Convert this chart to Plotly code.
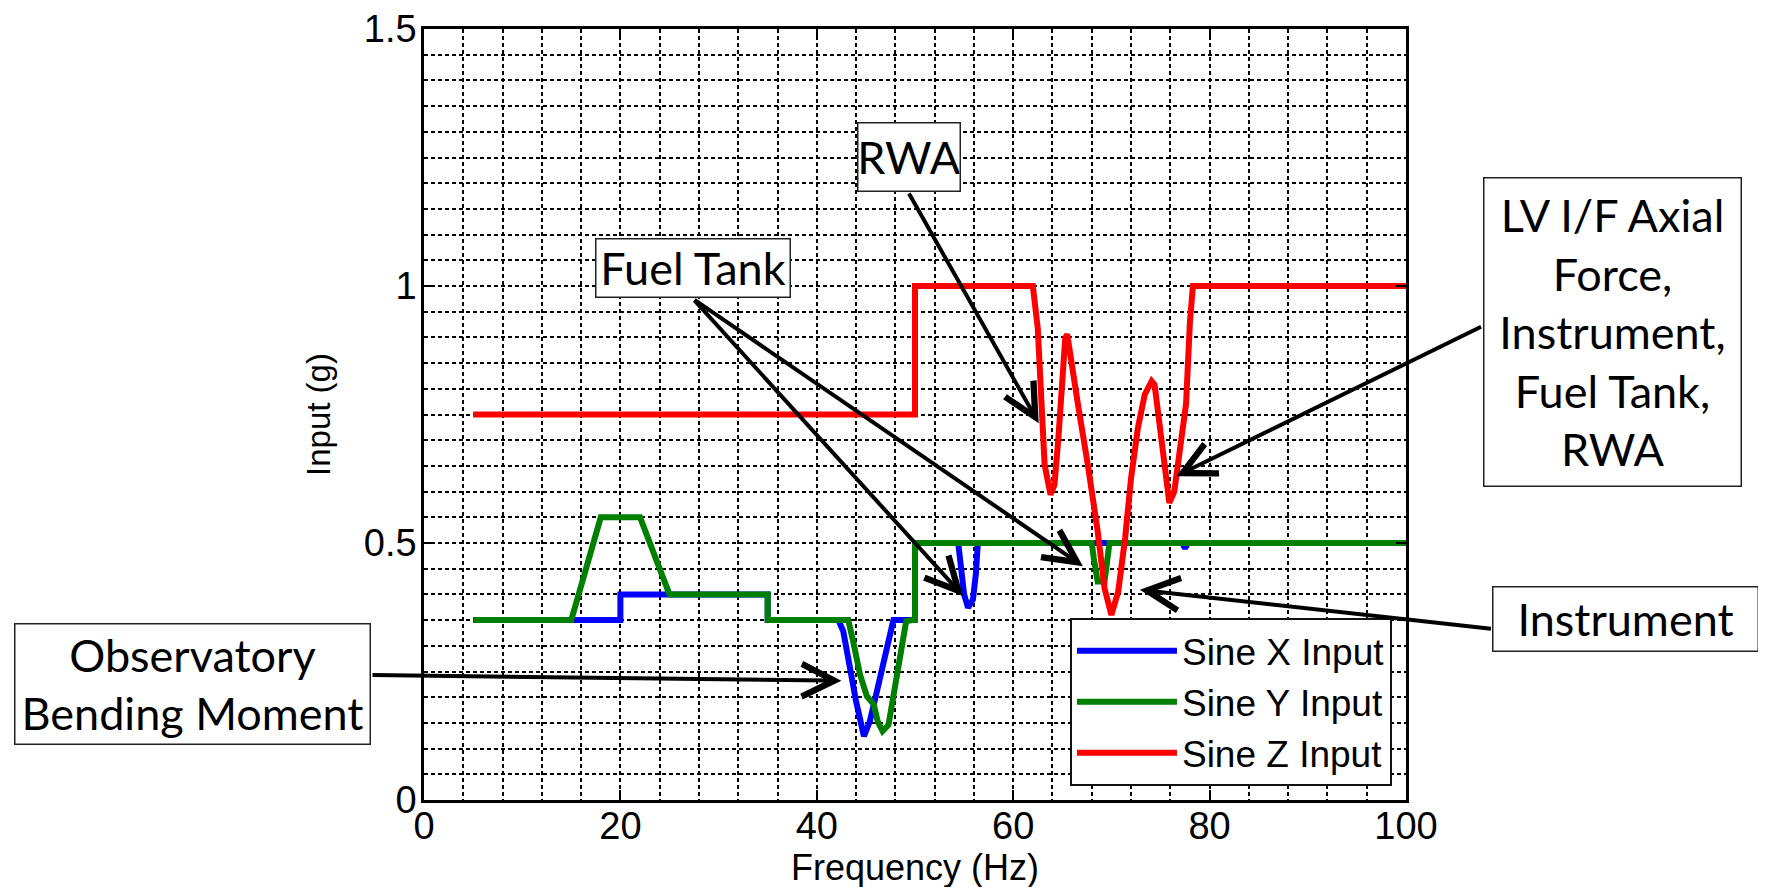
import plotly.graph_objects as go

# ---------------- data ----------------
freq_x = [5, 20, 20, 35, 35, 42.2, 42.7, 43.3, 44.0, 44.8, 45.4, 46.2, 47.3, 47.8, 50, 50,
          54.4, 54.7, 55.0, 55.4, 55.9, 56.2, 56.4, 77.2, 77.5, 77.8, 100]
sine_x = [0.35, 0.35, 0.40, 0.40, 0.35, 0.35, 0.328, 0.263, 0.192, 0.124, 0.153, 0.218, 0.302, 0.35, 0.35, 0.50,
          0.50, 0.445, 0.40, 0.374, 0.39, 0.44, 0.50, 0.50, 0.49, 0.50, 0.50]

freq_y = [5, 15, 18, 22, 25, 35, 35, 43.2, 43.7, 44.4, 45.1, 45.8, 46.2, 46.7, 47.3, 47.9, 48.6, 49.1, 49.8, 50, 50,
          68.0, 68.2, 68.6, 69.3, 69.6, 69.8, 100]
sine_y = [0.35, 0.35, 0.55, 0.55, 0.40, 0.40, 0.35, 0.35, 0.309, 0.244, 0.202, 0.186, 0.153, 0.134, 0.146, 0.218,
          0.296, 0.348, 0.35, 0.35, 0.50, 0.50, 0.471, 0.425, 0.425, 0.47, 0.50, 0.50]

freq_z = [5, 50, 50, 62.0, 62.5, 62.9, 63.2, 63.8, 64.2, 64.6, 64.9, 65.3, 65.5, 65.8, 66.6, 67.6, 68.6, 69.3,
          70.0, 70.7, 71.4, 72.0, 72.7, 73.4, 74.1, 74.4, 74.9, 75.4, 75.9, 76.4, 77.1, 77.6, 78.0, 78.3, 100]
sine_z = [0.75, 0.75, 1.0, 1.0, 0.918, 0.730, 0.652, 0.594, 0.613, 0.704, 0.80, 0.899, 0.906, 0.866, 0.769, 0.652,
          0.523, 0.412, 0.360, 0.406, 0.51, 0.626, 0.724, 0.789, 0.815, 0.808, 0.730, 0.639, 0.578, 0.60, 0.691,
          0.77, 0.931, 1.0, 1.0]

series_names = ["Sine X Input", "Sine Y Input", "Sine Z Input"]
series_colors = ["#0000ff", "#007f00", "#ff0000"]

x_tick_vals = [0, 20, 40, 60, 80, 100]
y_tick_vals = [0, 0.5, 1, 1.5]
y_tick_text = ["0", "0.5", "1", "1.5"]

x_title = "Frequency (Hz)"
y_title = "Input (g)"

# callout boxes: text, centre (paper x, paper y), width, height (px)
box_texts = ["RWA", "Fuel Tank", "LV I/F Axial<br>Force,<br>Instrument,<br>Fuel Tank,<br>RWA",
             "Instrument", "Observatory<br>Bending Moment"]
box_cx = [0.4939, 0.2739, 1.2106, 1.2240, -0.2362]
box_cy = [0.8340, 0.6900, 0.6073, 0.2348, 0.1504]
box_w = [104, 196, 259, 267, 357]
box_h = [70, 60, 310, 66, 122]

# callout arrows: tip (data) and tail (data)
arrow_tip_x = [62.6, 54.9, 67.1, 76.6, 72.9, 42.5]
arrow_tip_y = [0.733, 0.397, 0.455, 0.630, 0.409, 0.232]
arrow_tail_x = [49.3, 27.4, 27.4, 107.8, 108.8, -5.4]
arrow_tail_y = [1.183, 0.975, 0.975, 0.922, 0.333, 0.243]

# ---------------- figure ----------------
fig = go.Figure()
for fx, fy, name, col in zip([freq_x, freq_y, freq_z], [sine_x, sine_y, sine_z], series_names, series_colors):
    fig.add_trace(go.Scatter(x=fx, y=fy, mode="lines", name=name,
                             line=dict(color=col, width=6)))

tick_font = dict(family="Liberation Sans, Arial, sans-serif", size=38, color="black")
x_title_font = dict(family="Liberation Sans, Arial, sans-serif", size=36, color="black")
y_title_font = dict(family="Liberation Sans, Arial, sans-serif", size=33, color="black")
grid_dash = "4px,3px"

fig.update_layout(
    width=1766, height=887,
    margin=dict(l=416, r=368, t=21, b=95, pad=0, autoexpand=False),
    paper_bgcolor="white", plot_bgcolor="white",
    font=tick_font,
    showlegend=True,
    legend=dict(x=0.9857, xanchor="right", y=0.018, yanchor="bottom",
                bgcolor="white", bordercolor="#111111", borderwidth=2,
                font=dict(family="Liberation Sans, Arial, sans-serif", size=37, color="black"),
                itemwidth=100, tracegroupgap=0),
    xaxis=dict(range=[0, 100], tickvals=x_tick_vals, showgrid=True, gridcolor="black",
               griddash=grid_dash, gridwidth=1.8, zeroline=False, automargin=False,
               showline=True, linecolor="black", linewidth=2.5, mirror="ticks",
               ticks="inside", ticklen=10, tickwidth=2, tickcolor="black",
               tickfont=tick_font, ticklabelstandoff=-9,
               minor=dict(dtick=4, showgrid=True, gridcolor="black", griddash=grid_dash, gridwidth=1.5),
               title=dict(text=x_title, font=x_title_font, standoff=0)),
    yaxis=dict(range=[0, 1.5], tickvals=y_tick_vals, ticktext=y_tick_text, showgrid=True, gridcolor="black",
               griddash=grid_dash, gridwidth=1.8, zeroline=False, automargin=False,
               showline=True, linecolor="black", linewidth=2.5, mirror="ticks",
               ticks="inside", ticklen=10, tickwidth=2, tickcolor="black",
               tickfont=tick_font, ticklabelstandoff=-3,
               minor=dict(dtick=0.05, showgrid=True, gridcolor="black", griddash=grid_dash, gridwidth=1.5),
               title=dict(text=y_title, font=y_title_font, standoff=24)),
)

box_font = dict(family="Lato, Calibri, sans-serif", size=45, color="black")
for tx, ty, hx, hy in zip(arrow_tail_x, arrow_tail_y, arrow_tip_x, arrow_tip_y):
    fig.add_annotation(x=hx, y=hy, xref="x", yref="y", ax=tx, ay=ty, axref="x", ayref="y",
                       text="", showarrow=True, arrowhead=5, arrowsize=1.6, arrowwidth=4,
                       arrowcolor="black", standoff=0, startstandoff=0)

for t, cx, cy, w, h in zip(box_texts, box_cx, box_cy, box_w, box_h):
    fig.add_annotation(x=cx, y=cy, xref="paper", yref="paper", xanchor="center", yanchor="middle",
                       text=t, showarrow=False, font=box_font, align="center", valign="middle",
                       width=w - 3, height=h - 3, borderpad=0,
                       bgcolor="white", bordercolor="#222222", borderwidth=1.5)

# slide page number, mostly cut off at the bottom edge
fig.add_annotation(x=(1703 - 416) / 982, y=(792 - 882) / 771, xref="paper", yref="paper",
                   xanchor="center", yanchor="top", text="3", showarrow=False,
                   font=dict(family="Lato, sans-serif", size=18, color="#333333"))

fig.write_html("out.html")
